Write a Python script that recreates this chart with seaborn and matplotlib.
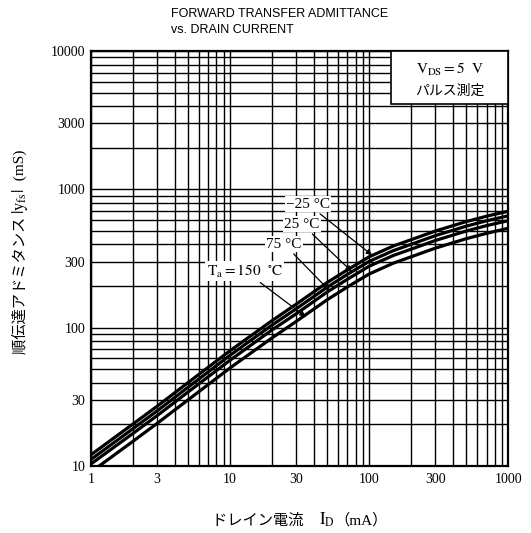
import numpy as np
import pandas as pd
import matplotlib
matplotlib.use("Agg")
import matplotlib.pyplot as plt
from matplotlib.patches import Rectangle
import seaborn as sns

# drain current (mA) and |yfs| (mS)
drain_current = [1, 2, 3, 5, 10, 20, 30, 50, 70, 100, 150, 200, 300, 500, 700, 1000]
yfs_m25 = [12.0, 20.0, 27.0, 40.0, 68.0, 112, 148, 212, 262, 325, 390, 432, 500, 585, 640, 695]
yfs_25 = [11.1, 18.5, 25.0, 37.0, 63.0, 104, 137, 196, 243, 301, 361, 400, 463, 542, 593, 644]
yfs_75 = [10.3, 17.1, 23.1, 34.2, 58.0, 96, 126, 181, 224, 278, 333, 369, 427, 500, 547, 594]
yfs_150 = [9.0, 15.0, 20.3, 30.0, 51.0, 84, 111, 159, 197, 244, 293, 325, 376, 440, 481, 523]

temps = ["-25", "25", "75", "150"]
x_ticks = [1, 3, 10, 30, 100, 300, 1000]
y_ticks = [10, 30, 100, 300, 1000, 3000, 10000]

df = pd.DataFrame({
    "I_D": drain_current * 4,
    "yfs": yfs_m25 + yfs_25 + yfs_75 + yfs_150,
    "Ta": sum([[t] * len(drain_current) for t in temps], []),
})

sns.set_theme(style="white")
plt.rcParams["font.family"] = ["Liberation Serif", "Noto Sans CJK JP"]
plt.rcParams["mathtext.fontset"] = "stix"
plt.rcParams["text.color"] = "black"

fig = plt.figure(figsize=(5.31, 5.33), dpi=100)
ax = fig.add_axes([0.171, 0.126, 0.786, 0.778])

sns.lineplot(data=df, x="I_D", y="yfs", hue="Ta", hue_order=temps,
             palette={t: "black" for t in temps}, linewidth=2.3,
             legend=False, ax=ax, zorder=4)

ax.set_xscale("log")
ax.set_yscale("log")
ax.set_xlim(1, 1000)
ax.set_ylim(10, 10000)

# grid: every 1..9 of each decade
minor_x = [m * 10 ** d for d in range(0, 3) for m in range(2, 10) if m * 10 ** d not in x_ticks]
minor_y = [m * 10 ** d for d in range(1, 4) for m in range(2, 10) if m * 10 ** d not in y_ticks]
ax.set_xticks(x_ticks)
ax.set_xticklabels([str(v) for v in x_ticks])
ax.set_xticks(minor_x, minor=True)
ax.set_yticks(y_ticks)
ax.set_yticklabels([str(v) for v in y_ticks])
ax.set_yticks(minor_y, minor=True)
ax.xaxis.set_minor_formatter(matplotlib.ticker.NullFormatter())
ax.yaxis.set_minor_formatter(matplotlib.ticker.NullFormatter())
ax.tick_params(which="both", length=0, labelsize=10, colors="black")
ax.tick_params(axis="x", pad=5)
ax.tick_params(axis="y", pad=4)
ax.grid(which="both", color="black", linewidth=1.0)
ax.set_axisbelow(True)
for s in ax.spines.values():
    s.set_color("black")
    s.set_linewidth(1.6)
ax.set_xlabel("")
ax.set_ylabel("")

# conditions box
ax.add_patch(Rectangle((0.72, 0.873), 0.28, 0.127, transform=ax.transAxes,
                       facecolor="white", edgecolor="black", linewidth=1.2, zorder=5))
ax.text(0.86, 0.955, r"$\mathrm{V_{DS}=5\ \ V}$", transform=ax.transAxes,
        ha="center", va="center", fontsize=11, zorder=6)
ax.text(0.86, 0.905, "パルス測定", transform=ax.transAxes, ha="center", va="center",
        fontsize=10, family=["Noto Sans CJK JP"], zorder=6)

# curve labels with leader arrows
labels = [
    ("−25 °C", (36.4, 780), (105, 335)),
    ("25 °C", (33, 560), (75, 255)),
    ("75 °C", (24.5, 402), (52, 185)),
    (r"$\mathrm{T_a=150\ \ ^{\circ}C}$", (12.8, 257), (35, 120)),
]
for txt, pos, tip in labels:
    ax.annotate(txt, xy=tip, xytext=pos, ha="center", va="center", fontsize=11,
                bbox=dict(facecolor="white", edgecolor="none", pad=1),
                arrowprops=dict(arrowstyle="-|>", color="black", lw=0.9,
                                shrinkA=2, shrinkB=0, mutation_scale=8),
                zorder=6)

# title
fig.text(0.322, 0.973, "FORWARD TRANSFER ADMITTANCE", ha="left", va="center",
         fontsize=9, family="Liberation Sans", color="black")
fig.text(0.322, 0.944, "vs. DRAIN CURRENT", ha="left", va="center",
         fontsize=9, family="Liberation Sans", color="black")


def chain_text(pieces, x, y, rotation=0):
    """place text pieces one after another, centred on (x, y) in figure pixels"""
    renderer = fig.canvas.get_renderer()
    objs = []
    pos = 0.0
    for s, kw in pieces:
        t = fig.text(0, 0, s, ha="left", va="baseline", rotation=rotation,
                     rotation_mode="anchor", transform=None, color="black", **kw)
        bb = t.get_window_extent(renderer)
        w = bb.width if rotation == 0 else bb.height
        objs.append((t, pos))
        pos += w
    for t, p in objs:
        if rotation == 0:
            t.set_position((x - pos / 2 + p, y))
        else:
            t.set_position((x, y - pos / 2 + p))


H = 533
chain_text([("ドレイン電流　", dict(fontsize=11, family=["Noto Sans CJK JP"])),
            (r"$\mathrm{I_D}$", dict(fontsize=12)),
            ("（mA）", dict(fontsize=11, family=["Liberation Serif", "Noto Sans CJK JP"]))],
           300, H - 525)
chain_text([("順伝達アドミタンス ", dict(fontsize=11, family=["Noto Sans CJK JP"])),
            (r"$|\mathrm{y_{fs}}|$", dict(fontsize=12)),
            ("  (mS)", dict(fontsize=11))],
           24, H - 252, rotation=90)

fig.savefig("out.png", dpi=100, facecolor="white")
